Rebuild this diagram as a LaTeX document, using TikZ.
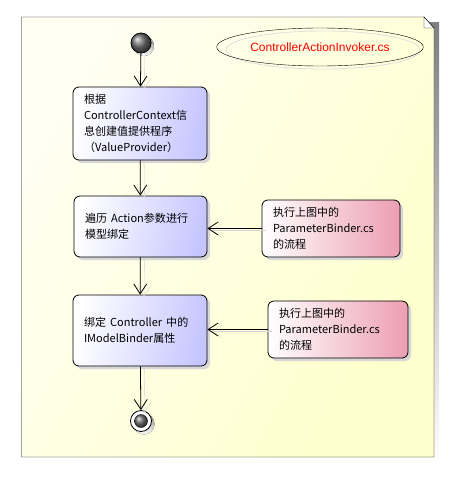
\documentclass[tikz,border=0pt]{standalone}
\usepackage{fontspec}
\setmainfont{Liberation Sans}
\newfontfamily\cjk[Scale=0.92]{Noto Sans CJK SC}
\usetikzlibrary{arrows.meta,shapes.geometric,shadows}

\definecolor{noteA}{RGB}{255,255,242}
\definecolor{noteB}{RGB}{255,255,205}
\definecolor{boxblue}{RGB}{198,198,255}
\definecolor{boxpink}{RGB}{236,158,178}
\definecolor{shade}{RGB}{215,215,215}

\tikzset{
    flow/.style={-{Straight Barb[length=10pt,width=13pt]}, thick},
    flowshadow/.style={flow, draw=gray!35, thin},
    action/.style={rectangle, rounded corners=6pt, draw, thick, align=left,
        left color=white, right color=boxblue, shading angle=80,
        inner xsep=11pt, font=\fontsize{12pt}{16pt}\selectfont,
        drop shadow={shadow xshift=3pt, shadow yshift=-3pt, fill=shade, opacity=1}},
    remark/.style={action, right color=boxpink}
}

\begin{document}
\begin{tikzpicture}[x=1pt,y=-1pt]
    \useasboundingbox (0,0) rectangle (466,490);

    % note frame with folded corner and shadow
    \fill[shade] (26,22) rectangle (439,462);
    \shade[left color=noteA, right color=noteB, shading angle=60, draw=black]
        (21.5,17) -- (424,17) -- (434,28) -- (434,457) -- (21.5,457) -- cycle;
    \draw[fill=white] (424,17) -- (424,28) -- (434,28) -- cycle;

    % title of the note
    \draw[gray!25, thick] (323,50) ellipse (97pt and 19pt);
    \node[ellipse, draw, minimum width=194pt, minimum height=38pt,
          text=red, font=\fontsize{12pt}{14pt}\selectfont] (title) at (320,47)
          {ControllerActionInvoker.cs};

    % start and end
    \fill[shade] (144,46) circle (10pt);
    \node[circle, draw, thick, minimum size=20pt, inner sep=0pt,
          shading=ball, ball color=black!55] (start) at (141,43) {};

    % actions
    \node[action, text width=112pt, minimum height=73pt] (values) at (140,123.5)
        {\cjk{根据}\\ControllerContext\cjk{信}\\\cjk{息创建值提供程序}\\\cjk{（}ValueProvider\cjk{）}};
    \node[action, text width=111pt, minimum height=61pt] (params) at (140.5,226.5)
        {\cjk{遍历} Action\cjk{参数进行}\\\cjk{模型绑定}};
    \node[action, text width=112pt, minimum height=71pt] (props) at (140,330.5)
        {\cjk{绑定} Controller \cjk{中的}\\IModelBinder\cjk{属性}};

    % remarks on the right
    \node[remark, text width=116pt, minimum height=57pt] (binderA) at (331,228.5)
        {\cjk{执行上图中的}\\ParameterBinder.cs\\\cjk{的流程}};
    \node[remark, text width=118pt, minimum height=57pt] (binderB) at (338,329.5)
        {\cjk{执行上图中的}\\ParameterBinder.cs\\\cjk{的流程}};

    \fill[shade] (144,424) circle (10.5pt);
    \node[circle, draw, thick, fill=white, minimum size=21pt, inner sep=0pt] (end) at (141,421) {};
    \node[circle, draw, minimum size=13pt, inner sep=0pt,
          shading=ball, ball color=black!55] (endcore) at (end) {};

    % flow, shadows first
    \begin{scope}[transform canvas={xshift=4pt, yshift=-2pt}]
        \draw[flowshadow] (start) -- (values);
        \draw[flowshadow] (values) -- (params);
        \draw[flowshadow] (params) -- (props);
        \draw[flowshadow] (props) -- (end);
        \draw[flowshadow] (binderA.west) -- (binderA.west -| params.east);
        \draw[flowshadow] (binderB.west) -- (binderB.west -| props.east);
    \end{scope}
    \draw[flow] (start) -- (values);
    \draw[flow] (values) -- (params);
    \draw[flow] (params) -- (props);
    \draw[flow] (props) -- (end);
    \draw[flow] (binderA.west) -- (binderA.west -| params.east);
    \draw[flow] (binderB.west) -- (binderB.west -| props.east);
\end{tikzpicture}
\end{document}
